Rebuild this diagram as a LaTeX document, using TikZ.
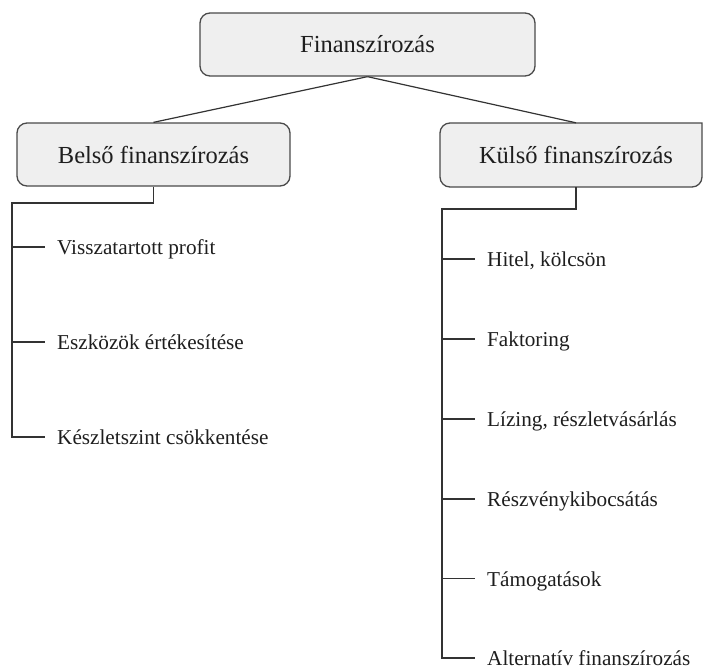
\documentclass[tikz,border=0pt]{standalone}
\usepackage{fontspec}
\setmainfont{Liberation Serif}
\definecolor{boxfill}{HTML}{EFEFEF}
\definecolor{boxline}{HTML}{4A4A4A}
\definecolor{txt}{HTML}{1E1E1E}
\definecolor{conn}{HTML}{333333}
\begin{document}
\begin{tikzpicture}[x=1pt,y=-1pt,
  box/.style={draw=boxline, fill=boxfill, line width=1.3pt, rounded corners=10pt,
    minimum height=63pt, inner sep=0pt, text=txt, font=\fontsize{24.5}{29}\selectfont},
  boxlbl/.style={inner sep=0pt, minimum height=64pt, text=txt, font=\fontsize{24.5}{29}\selectfont},
  item/.style={anchor=west, inner sep=0pt, text height=15pt, text depth=0pt, text=txt,
    font=\fontsize{21.2}{25}\selectfont},
  conn/.style={draw=conn, line width=1.2pt}]
\useasboundingbox (0,0) rectangle (704,670);

% boxes
\node[box, minimum width=335pt] (top) at (367.5,44.5) {Finanszírozás};
\node[box, minimum width=273pt] (bel) at (153.5,154.5) {Belső finanszírozás};
\filldraw[draw=boxline, fill=boxfill, line width=1.3pt]
  (702,123) [rounded corners=10pt] -- (440,123) -- (440,187) -- (702,187) [sharp corners] -- cycle;
\node[boxlbl] (kul) at (576,155) {Külső finanszírozás};

% top connectors
\draw[conn] (top.south) -- (bel.north);
\draw[conn] (top.south) -- (kul.north);

% left tree
\coordinate (lspine) at (12,203);
\node[item] (b1) at (57,247) {Visszatartott profit};
\node[item] (b2) at (57,342) {Eszközök értékesítése};
\node[item] (b3) at (57,437) {Készletszint csökkentése};
\draw[conn] (bel.south) |- (lspine) -- (lspine |- b3.west) -- ([xshift=-12pt]b3.west);
\draw[conn] (lspine |- b1.west) -- ([xshift=-12pt]b1.west);
\draw[conn] (lspine |- b2.west) -- ([xshift=-12pt]b2.west);

% right tree
\coordinate (rspine) at (442,209);
\node[item] (k1) at (487,259) {Hitel, kölcsön};
\node[item] (k2) at (487,339) {Faktoring};
\node[item] (k3) at (487,419) {Lízing, részletvásárlás};
\node[item] (k4) at (487,499) {Részvénykibocsátás};
\node[item] (k5) at (487,578.5) {Támogatások};
\node[item] (k6) at (487,658) {Alternatív finanszírozás};
\draw[conn] (kul.south) |- (rspine) -- (rspine |- k6.west) -- ([xshift=-12pt]k6.west);
\foreach \k in {k1,k2,k3,k4,k5}
  \draw[conn] (rspine |- \k.west) -- ([xshift=-12pt]\k.west);
\end{tikzpicture}
\end{document}
